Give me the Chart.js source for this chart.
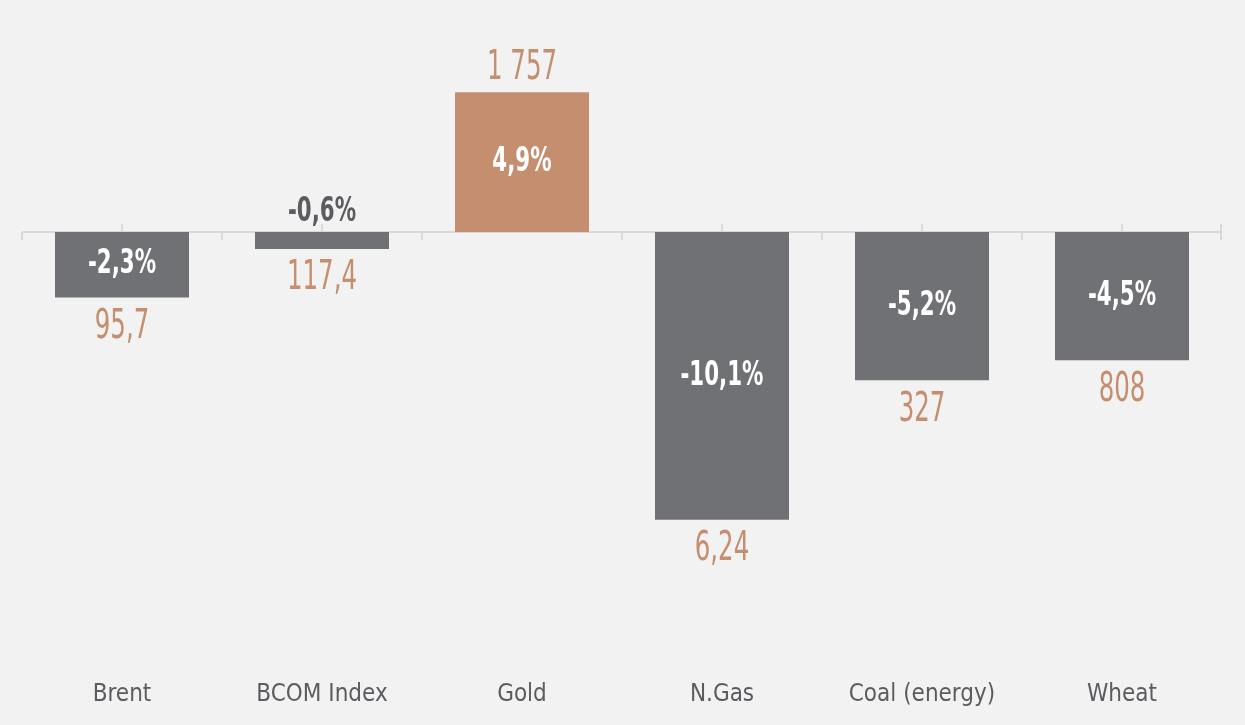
<!DOCTYPE html>
<html>
<head>
<meta charset="utf-8">
<script src="https://cdn.jsdelivr.net/npm/chart.js@4"></script>
<style>
  html, body { margin: 0; padding: 0; background: #f2f2f2; }
  #wrap { width: 1245px; height: 725px; position: relative; }
</style>
</head>
<body>
<div id="wrap"><canvas id="chart"></canvas></div>
<script>
const categories = ['Brent', 'BCOM Index', 'Gold', 'N.Gas', 'Coal (energy)', 'Wheat'];
const changes = [-2.3, -0.6, 4.9, -10.1, -5.2, -4.5];
const prices = ['95,7', '117,4', '1 757', '6,24', '327', '808'];

const FONT = "'DejaVu Sans Condensed', 'DejaVu Sans', sans-serif";
const GREY = '#707175';
const ORANGE = '#c48e6f';
const TEXT = '#5b5c5f';

// zero line with small ticks
const zeroAxis = {
  id: 'zeroAxis',
  beforeDatasetsDraw(chart) {
    const { ctx, chartArea, scales } = chart;
    const x = scales.x, y = scales.y;
    const y0 = y.getPixelForValue(0);
    const step = chartArea.width / categories.length;
    ctx.save();
    ctx.strokeStyle = '#d9d9d9';
    ctx.lineWidth = 2;
    ctx.beginPath();
    ctx.moveTo(chartArea.left, y0);
    ctx.lineTo(chartArea.right, y0);
    for (let i = 0; i < categories.length; i++) {
      const c = x.getPixelForValue(i);
      ctx.moveTo(c - step / 2, y0);
      ctx.lineTo(c - step / 2, y0 + 8);
      ctx.moveTo(c, y0);
      ctx.lineTo(c, y0 - 8);
    }
    ctx.moveTo(chartArea.right - 1, y0 - 8);
    ctx.lineTo(chartArea.right - 1, y0 + 8);
    ctx.stroke();
    ctx.restore();
  }
};

// condensed text: squeeze horizontally
function narrowText(ctx, txt, x, y, sx) {
  ctx.save();
  ctx.translate(x, y);
  ctx.scale(sx, 1);
  ctx.fillText(txt, 0, 0);
  ctx.restore();
}

// percent labels inside bars, price labels at bar ends
const barLabels = {
  id: 'barLabels',
  afterDatasetsDraw(chart) {
    const { ctx } = chart;
    const meta = chart.getDatasetMeta(0);
    ctx.save();
    ctx.textAlign = 'center';
    ctx.textBaseline = 'middle';
    meta.data.forEach((bar, i) => {
      const v = changes[i];
      const txt = (v > 0 ? '' : '-') + Math.abs(v).toFixed(1).replace('.', ',') + '%';
      const h = Math.abs(bar.base - bar.y);
      const down = v < 0;
      ctx.font = 'bold 33px ' + FONT;
      if (h > 40) {
        ctx.fillStyle = '#ffffff';
        narrowText(ctx, txt, bar.x, (bar.y + bar.base) / 2, 0.72);
      } else {
        ctx.fillStyle = TEXT;
        narrowText(ctx, txt, bar.x, down ? bar.base - 20 : bar.base + 20, 0.72);
      }
      ctx.font = '40px ' + FONT;
      ctx.fillStyle = ORANGE;
      narrowText(ctx, prices[i], bar.x, down ? bar.y + 30 : bar.y - 24, 0.68);
    });
    ctx.restore();
  }
};

new Chart(document.getElementById('chart'), {
  type: 'bar',
  data: {
    labels: categories,
    datasets: [{
      data: changes,
      backgroundColor: categories.map((c, i) => changes[i] > 0 ? ORANGE : GREY),
      categoryPercentage: 1,
      barPercentage: 0.67
    }]
  },
  options: {
    responsive: true,
    maintainAspectRatio: false,
    animation: false,
    layout: { padding: { top: 4, bottom: 0, left: 22, right: 23 } },
    plugins: { legend: { display: false }, tooltip: { enabled: false } },
    scales: {
      x: {
        grid: { display: false, drawTicks: false },
        border: { display: false },
        ticks: { color: TEXT, padding: 21, maxRotation: 0, font: { family: FONT, size: 24 } },
        afterFit(scale) { scale.height = 65.5; }
      },
      y: { display: false, min: -15, max: 8 }
    }
  },
  plugins: [zeroAxis, barLabels]
});
</script>
</body>
</html>
